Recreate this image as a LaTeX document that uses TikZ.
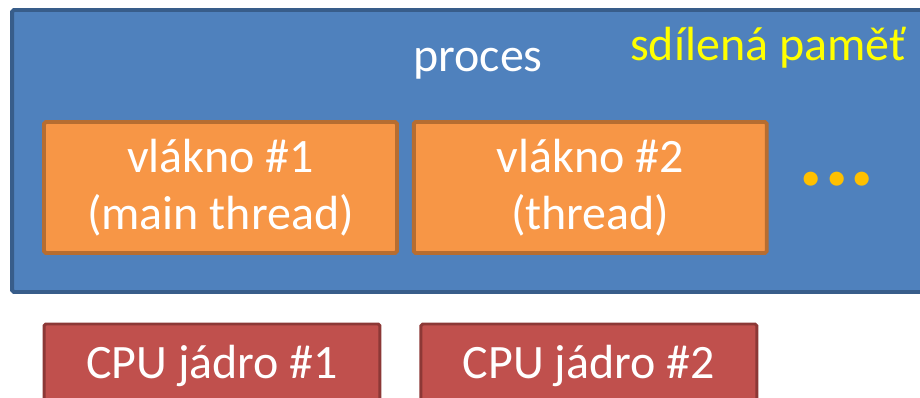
\documentclass[tikz,border=0pt]{standalone}
\usepackage{fontspec}
\setmainfont{Carlito}
\usetikzlibrary{positioning}
\definecolor{procblue}{HTML}{4F81BD}
\definecolor{procedge}{HTML}{385D8A}
\definecolor{threadfill}{HTML}{F79646}
\definecolor{threadedge}{HTML}{B66D31}
\definecolor{corefill}{HTML}{C0504D}
\definecolor{coreedge}{HTML}{8C3836}
\definecolor{dotgold}{HTML}{FFC000}
\definecolor{sharedyellow}{HTML}{FFFF00}

\begin{document}
\begin{tikzpicture}[x=0.02cm, y=-0.02cm, node distance=0.26cm,
    every node/.style={font=\fontsize{27.3}{32.4}\selectfont, text=white, inner sep=0pt},
    process/.style={draw=procedge, fill=procblue, line width=2.2pt, rounded corners=1pt, minimum width=18.96cm, minimum height=5.64cm},
    thread/.style={draw=threadedge, fill=threadfill, line width=2.2pt, rounded corners=1pt, minimum width=7.06cm, minimum height=2.62cm, align=center},
    core/.style={draw=coreedge, fill=corefill, line width=1.7pt, rounded corners=1pt, minimum width=6.72cm, minimum height=1.68cm}]
      \useasboundingbox (0,0) rectangle (920,398);
      \clip (0,0) rectangle (920,398);
      \node[process] (proc) at (486,151) {};
      \node[anchor=base] (proclabel) at (478,72) {proces};
      \node[anchor=base, text=sharedyellow] (shared) at (768,61) {sdílená paměť};
      \node[thread] (t1) at (220.5,187.5) {vlákno \#1\\(main thread)};
      \node[thread] (t2) [right=of t1] {vlákno \#2\\(thread)};
      \node[text=dotgold, font=\bfseries\fontsize{54}{54}\selectfont] (dots) at (837,179) {...};
      \node[core] (c1) at (212,366) {CPU jádro \#1};
      \node[core] (c2) [right=0.76cm of c1] {CPU jádro \#2};
\end{tikzpicture}
\end{document}
